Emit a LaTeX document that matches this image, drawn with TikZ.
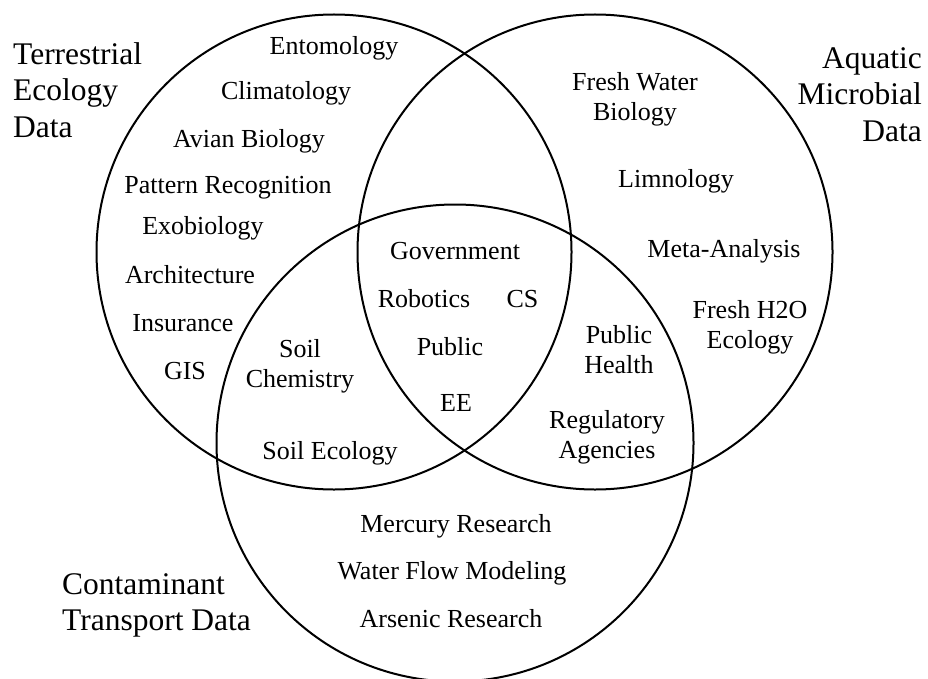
\documentclass[tikz,border=0pt]{standalone}
\usepackage{fontspec}
\setmainfont{Liberation Serif}
\usetikzlibrary{positioning}

\begin{document}
\begin{tikzpicture}[x=1pt,y=-1pt,
        area/.style={circle, draw=black, line width=2pt, minimum size=475pt, inner sep=0pt},
        topic/.style={align=center, inner sep=0pt, font={\fontsize{26}{30}\selectfont}},
        dataset/.style={inner sep=0pt, font={\fontsize{31.5}{36.5}\selectfont}},
        node distance=36pt
        ]
    \useasboundingbox (0,0) rectangle (928,679);

    % the three data sets
    \node[area] (terr) at (334,252) {};
    \node[area] (aqua) at (595,252) {};
    \node[area, minimum size=477pt] (cont) at (455,443) {};

    \node[dataset, align=left, anchor=north west] (terrname) at (13,42) {Terrestrial\\Ecology\\Data};
    \node[dataset, align=right, anchor=north east] (aquaname) at (922,47) {Aquatic\\Microbial\\Data};
    \node[dataset, align=left, anchor=north west] (contname) at (62,573) {Contaminant\\Transport Data};

    % terrestrial only
    \node[topic] (ento) at (334,48) {Entomology};
    \node[topic] (clim) at (286,93) {Climatology};
    \node[topic] (avian) at (249,141) {Avian Biology};
    \node[topic] (pattern) at (228,188) {Pattern Recognition};
    \node[topic] (exo) at (203,228) {Exobiology};
    \node[topic] (arch) at (190,275) {Architecture};
    \node[topic] (insur) at (183,323) {Insurance};
    \node[topic] (gis) at (185,371) {GIS};

    % aquatic only
    \node[topic] (fwbio) at (635,99) {Fresh Water\\Biology};
    \node[topic] (limno) at (676,181) {Limnology};
    \node[topic] (meta) at (724,251) {Meta-Analysis};
    \node[topic] (fhtwoo) at (750,327) {Fresh H2O\\Ecology};

    % contaminant only
    \node[topic] (mercury) at (456,526) {Mercury Research};
    \node[topic] (flow) at (452,573) {Water Flow Modeling};
    \node[topic] (arsenic) at (451,619) {Arsenic Research};

    % overlaps
    \node[topic] (soilchem) at (300,366) {Soil\\Chemistry};
    \node[topic] (soileco) at (330,453) {Soil Ecology};
    \node[topic] (pubhealth) at (619,350) {Public\\Health};
    \node[topic] (regul) at (607,437) {Regulatory\\Agencies};

    % all three
    \node[topic] (gov) at (455,251) {Government};
    \node[topic] (robo) at (424,299) {Robotics};
    \node[topic, right=of robo] (cs) {CS};
    \node[topic] (public) at (450,347) {Public};
    \node[topic] (ee) at (456,403) {EE};

\end{tikzpicture}
\end{document}
